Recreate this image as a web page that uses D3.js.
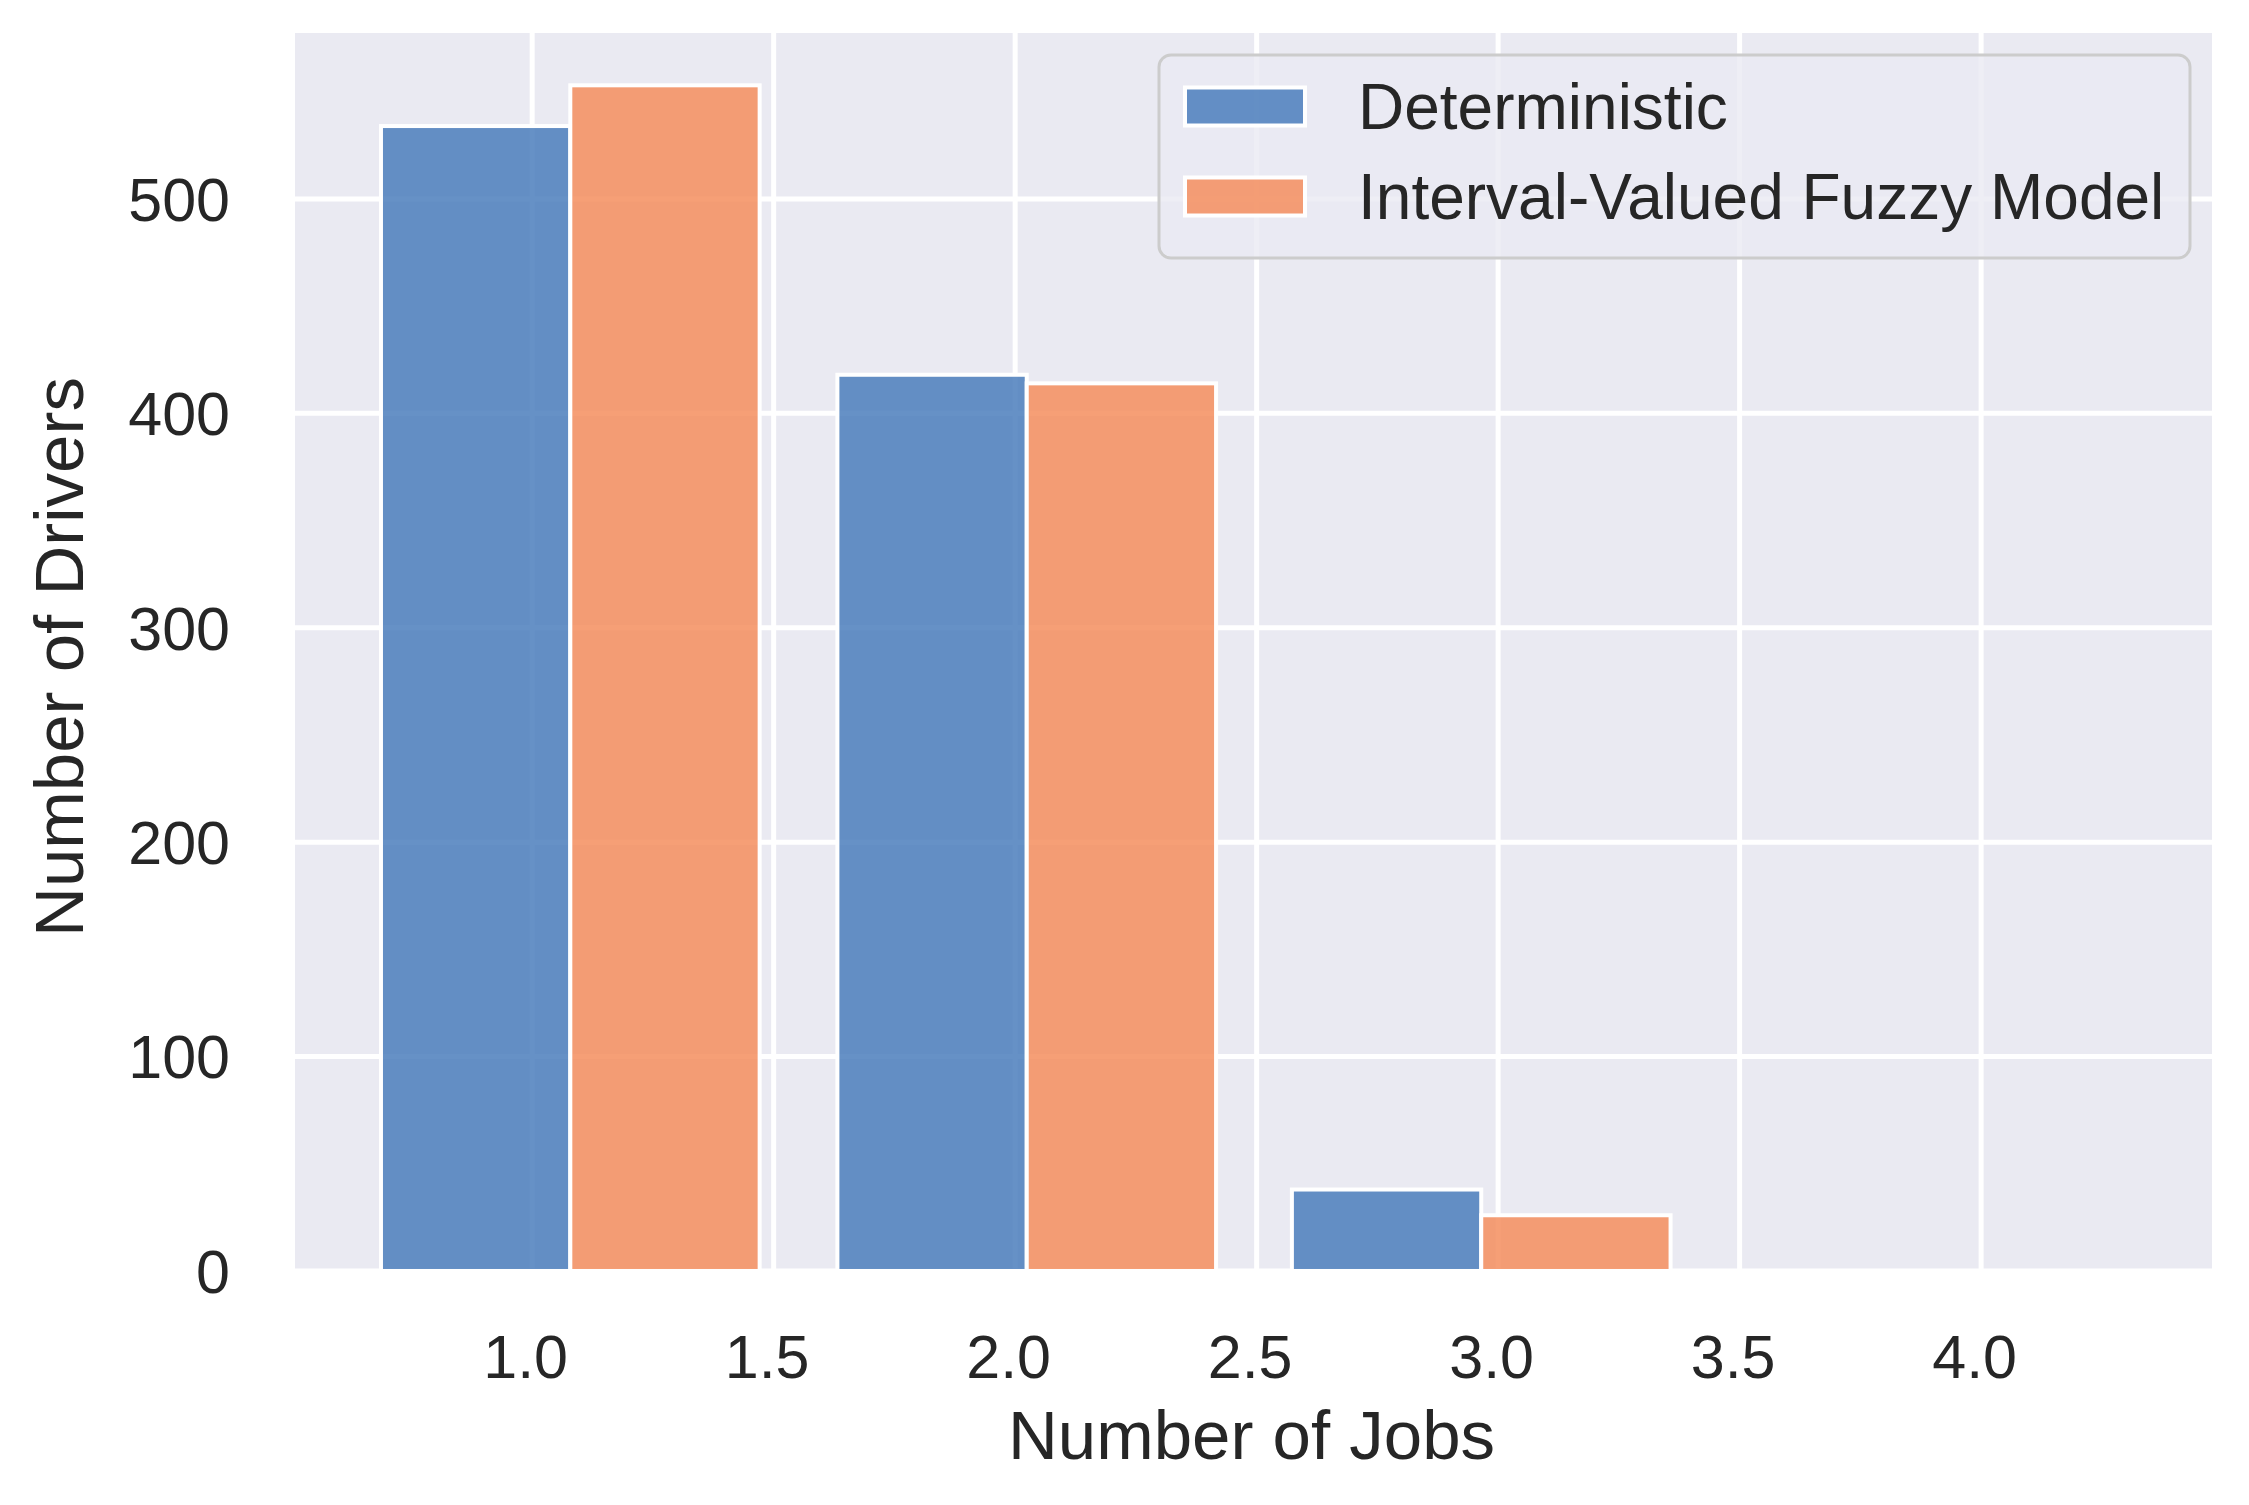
<!DOCTYPE html>
<html>
<head>
<meta charset="utf-8">
<script src="https://cdn.jsdelivr.net/npm/d3@7"></script>
<style>
  html, body { margin: 0; padding: 0; background: #ffffff; }
  svg { display: block; }
  text { font-family: "Liberation Sans", Arial, Helvetica, sans-serif; fill: #262626; }
</style>
</head>
<body>
<svg id="chart" width="2249" height="1505"></svg>
<script>
// ---- data ----
const categories = [1, 2, 3];                 // number of jobs (bin groups)
const binSplit = [1.079, 2.024, 2.965];       // boundary between the two dodged bars in each bin
const barWidth = 0.392;                       // width of one dodged bar (data units)
const seriesNames = ["Deterministic", "Interval-Valued Fuzzy Model"];
const deterministic = [534, 418, 38];
const fuzzy = [553, 414, 26];
const xTicks = [1.0, 1.5, 2.0, 2.5, 3.0, 3.5, 4.0];
const yTicks = [0, 100, 200, 300, 400, 500];
const xLabel = "Number of Jobs";
const yLabel = "Number of Drivers";

// ---- layout ----
const W = 2249, H = 1505;
const plot = { left: 295, right: 2212, top: 33, bottom: 1271 };
const colors = ["#4d7fbd", "#f48f5f"];
const bg = "#eaeaf2";

const svg = d3.select("#chart");
const x = d3.scaleLinear().domain([0.509, 4.478]).range([plot.left, plot.right]);
const y = d3.scaleLinear().domain([0, 577.4]).range([plot.bottom, plot.top]);

// background
svg.append("rect").attr("x", 0).attr("y", 0).attr("width", W).attr("height", H).attr("fill", "#fff");
svg.append("rect")
  .attr("x", plot.left).attr("y", plot.top)
  .attr("width", plot.right - plot.left).attr("height", plot.bottom - plot.top)
  .attr("fill", bg);

// grid
const grid = svg.append("g");
grid.selectAll("line.gx").data(xTicks).join("line")
  .attr("x1", d => x(d)).attr("x2", d => x(d))
  .attr("y1", plot.top).attr("y2", plot.bottom)
  .attr("stroke", "#fff").attr("stroke-width", 5);
grid.selectAll("line.gy").data(yTicks).join("line")
  .attr("y1", d => y(d)).attr("y2", d => y(d))
  .attr("x1", plot.left).attr("x2", plot.right)
  .attr("stroke", "#fff").attr("stroke-width", 5);

// bars
const series = [deterministic, fuzzy];
const bars = svg.append("g");
series.forEach((vals, si) => {
  bars.selectAll("rect.s" + si).data(vals.map((v, i) => ({ v, i }))).join("rect")
    .attr("x", d => si === 0 ? x(binSplit[d.i] - barWidth) : x(binSplit[d.i]))
    .attr("width", d => x(binSplit[d.i] + barWidth) - x(binSplit[d.i]))
    .attr("y", d => y(d.v))
    .attr("height", d => y(0) - y(d.v))
    .attr("fill", colors[si])
    .attr("fill-opacity", 0.86)
    .attr("stroke", "#fff")
    .attr("stroke-width", 4);
});

// axes (tick labels only, no spines)
const xAxis = d3.axisBottom(x).tickValues(xTicks).tickFormat(d3.format(".1f")).tickSize(0).tickPadding(0);
const gx = svg.append("g").attr("transform", `translate(0,${plot.bottom})`).call(xAxis);
gx.select(".domain").remove();
gx.selectAll("text")
  .attr("x", -7).attr("y", 107).attr("dy", null)
  .style("font-size", "61px").style("font-family", "Liberation Sans, Arial, sans-serif")
  .attr("fill", "#262626");

const yAxis = d3.axisLeft(y).tickValues(yTicks).tickFormat(d3.format("d")).tickSize(0).tickPadding(0);
const gy = svg.append("g").attr("transform", `translate(${plot.left},0)`).call(yAxis);
gy.select(".domain").remove();
gy.selectAll("text")
  .attr("x", -65).attr("dy", "0.35em")
  .style("font-size", "61px").style("font-family", "Liberation Sans, Arial, sans-serif")
  .attr("fill", "#262626");

// axis labels
svg.append("text")
  .attr("x", (plot.left + plot.right) / 2 - 2).attr("y", 1459)
  .attr("text-anchor", "middle")
  .style("font-size", "69px")
  .text(xLabel);
svg.append("text")
  .attr("transform", `translate(83,${(plot.top + plot.bottom) / 2 + 5}) rotate(-90)`)
  .attr("text-anchor", "middle")
  .style("font-size", "69px")
  .text(yLabel);

// legend
const lg = svg.append("g");
lg.append("rect")
  .attr("x", 1159).attr("y", 55).attr("width", 1031).attr("height", 203)
  .attr("rx", 12).attr("ry", 12)
  .attr("fill", bg).attr("fill-opacity", 0.8)
  .attr("stroke", "#cccccc").attr("stroke-width", 3);
const rowY = [106.5, 196.5];
seriesNames.forEach((name, i) => {
  lg.append("rect")
    .attr("x", 1185).attr("y", rowY[i] - 19).attr("width", 120).attr("height", 38)
    .attr("fill", colors[i]).attr("fill-opacity", 0.86)
    .attr("stroke", "#fff").attr("stroke-width", 4);
  lg.append("text")
    .attr("x", 1358).attr("y", rowY[i]).attr("dy", "0.35em")
    .style("font-size", "64px")
    .text(name);
});
</script>
</body>
</html>
